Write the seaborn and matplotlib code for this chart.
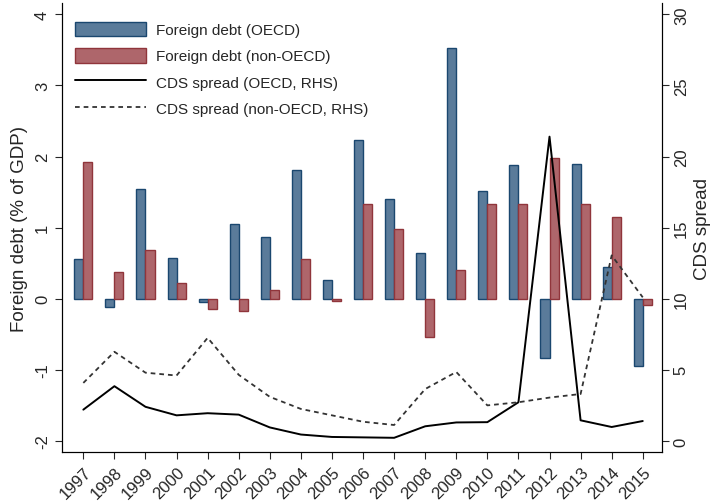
import numpy as np
import pandas as pd
import matplotlib
matplotlib.use("Agg")
import matplotlib.pyplot as plt
import seaborn as sns
from matplotlib.patches import Patch
from matplotlib.lines import Line2D

years = [str(y) for y in range(1997, 2016)]
debt_oecd = [0.56, -0.12, 1.55, 0.58, -0.05, 1.05, 0.87, 1.81, 0.27, 2.23,
             1.41, 0.65, 3.53, 1.52, 1.88, -0.83, 1.90, 0.45, -0.95]
debt_non_oecd = [1.93, 0.38, 0.69, 0.22, -0.15, -0.17, 0.12, 0.56, -0.03, 1.33,
                 0.98, -0.54, 0.41, 1.33, 1.33, 1.98, 1.33, 1.15, -0.09]
cds_oecd = [2.2, 3.85, 2.4, 1.8, 1.95, 1.85, 0.95, 0.45, 0.28, 0.25,
            0.22, 1.03, 1.3, 1.32, 2.72, 21.4, 1.45, 0.98, 1.4]
cds_non_oecd = [4.08, 6.27, 4.8, 4.6, 7.25, 4.65, 3.1, 2.25, 1.8, 1.35,
                1.12, 3.65, 4.85, 2.5, 2.72, 3.05, 3.3, 13.05, 10.1]

lab_oecd = "Foreign debt (OECD)"
lab_non = "Foreign debt (non-OECD)"
lab_cds_oecd = "CDS spread (OECD, RHS)"
lab_cds_non = "CDS spread (non-OECD, RHS)"

bars = pd.DataFrame({
    "year": years * 2,
    "debt": debt_oecd + debt_non_oecd,
    "group": [lab_oecd] * len(years) + [lab_non] * len(years),
})
lines = pd.DataFrame({
    "pos": np.arange(len(years)),
    "oecd": cds_oecd,
    "non": cds_non_oecd,
})

sns.set_style("white")
plt.rcParams["font.family"] = ["Liberation Sans", "DejaVu Sans"]

fill_blue = "#5a7b9a"
fill_red = "#ae666b"
edge_blue = "#1a476f"
edge_red = "#90353b"

fig = plt.figure(figsize=(7.12, 5.02), dpi=100)
ax = fig.add_axes([0.0867, 0.097, 0.8431, 0.895])

sns.barplot(data=bars, x="year", y="debt", hue="group",
            palette={lab_oecd: fill_blue, lab_non: fill_red},
            width=0.58, gap=0, ax=ax, legend=False, errorbar=None,
            saturation=1)
n = len(years)
for i, p in enumerate(ax.patches):
    if i < n:
        p.set_edgecolor(edge_blue)
    else:
        p.set_edgecolor(edge_red)
    p.set_linewidth(1.0)

ax.set_xlim(-0.695, 18.62)
ax.set_ylim(-2.16, 4.16)
ax.set_yticks([-2, -1, 0, 1, 2, 3, 4])
ax.set_yticklabels(["-2", "-1", "0", "1", "2", "3", "4"], rotation=90, va="center")
ax.set_ylabel("Foreign debt (% of GDP)", fontsize=13.5, labelpad=5)
ax.set_xlabel("")
ax.tick_params(axis="both", labelsize=12, length=5, width=0.8, direction="out",
               left=True, bottom=True, pad=3.5)
for lbl in ax.get_xticklabels():
    lbl.set_rotation(45)
    lbl.set_ha("right")
    lbl.set_rotation_mode("anchor")

ax2 = ax.twinx()
sns.lineplot(data=lines, x="pos", y="oecd", color="black", lw=1.4, ax=ax2)
sns.lineplot(data=lines, x="pos", y="non", color="#333333", lw=1.3, ax=ax2,
             linestyle=(0, (2.6, 2.2)))
ax2.set_ylim(-0.8, 30.8)
ax2.set_yticks([0, 5, 10, 15, 20, 25, 30])
ax2.set_yticklabels(["0", "5", "10", "15", "20", "25", "30"], rotation=90, va="center")
ax2.set_ylabel("CDS spread", fontsize=13.5)
ax2.set_xlabel("")
ax2.tick_params(axis="y", labelsize=12, length=5, width=0.8, direction="out",
                right=True, pad=3.5)
ax2.set_xlim(-0.695, 18.62)

for a in (ax, ax2):
    a.spines["top"].set_visible(False)
    for s in ("left", "right", "bottom"):
        a.spines[s].set_color("black")
        a.spines[s].set_linewidth(0.8)

handles = [
    Patch(facecolor=fill_blue, edgecolor=edge_blue, lw=1.0),
    Patch(facecolor=fill_red, edgecolor=edge_red, lw=1.0),
    Line2D([], [], color="black", lw=1.4),
    Line2D([], [], color="#333333", lw=1.3, linestyle=(0, (2.6, 2.2))),
]
ax2.legend(handles, [lab_oecd, lab_non, lab_cds_oecd, lab_cds_non],
           loc="upper left", bbox_to_anchor=(0.0, 0.989), frameon=False,
           fontsize=11, handlelength=4.6, handleheight=1.1,
           labelspacing=0.7, handletextpad=0.7, borderaxespad=0.5)

fig.savefig("out.png", dpi=100)
